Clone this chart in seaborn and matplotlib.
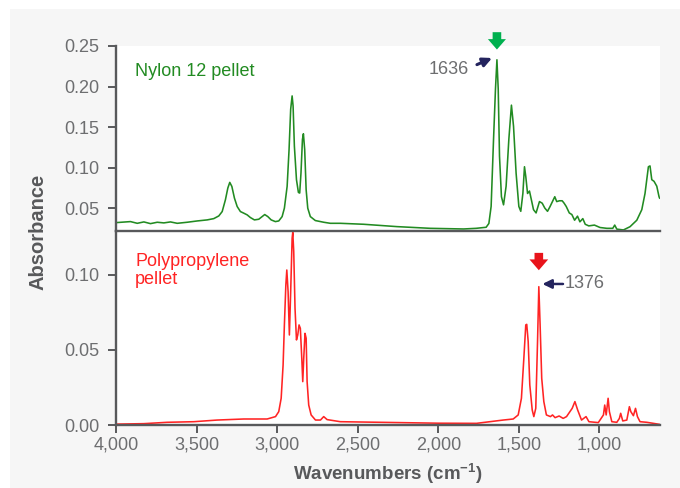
import matplotlib
matplotlib.use("Agg")
import matplotlib.pyplot as plt
from matplotlib.patches import Rectangle
import numpy as np
import pandas as pd
import seaborn as sns

# ---------------- data ----------------
nylon_wn = [3996, 3910, 3868, 3827, 3786, 3744, 3703, 3662, 3620, 3558, 3496, 3434,
            3393, 3362, 3341, 3321, 3306, 3294, 3281, 3265, 3248, 3228, 3207, 3186,
            3166, 3141, 3114, 3093, 3077, 3058, 3037, 3011, 2990, 2969, 2955, 2938,
            2926, 2916, 2907, 2901, 2893, 2880, 2868, 2860, 2852, 2843, 2837, 2829,
            2820, 2810, 2794, 2763, 2711, 2670, 2608, 2463, 2256, 2050, 1843,
            1765, 1703, 1686, 1672, 1657, 1645, 1636, 1628, 1620, 1608, 1595, 1579,
            1562, 1546, 1533, 1517, 1500, 1488, 1475, 1465, 1457, 1446, 1434, 1422,
            1409, 1393, 1372, 1355, 1339, 1322, 1306, 1277, 1265, 1248, 1231, 1219,
            1206, 1187, 1171, 1154, 1136, 1121, 1103, 1088, 1066, 1031, 996, 954,
            917, 905, 892, 851, 810, 768, 737, 717, 696, 686, 675, 661, 644, 630, 626]
nylon_abs = [0.0321, 0.0333, 0.0312, 0.0329, 0.0308, 0.0325, 0.0317, 0.0329, 0.0312,
             0.0325, 0.0341, 0.0354, 0.0370, 0.0403, 0.0457, 0.0602, 0.0747, 0.0817,
             0.0767, 0.0623, 0.0519, 0.0457, 0.0437, 0.0416, 0.0383, 0.0354, 0.0362,
             0.0395, 0.0420, 0.0395, 0.0354, 0.0333, 0.0341, 0.0395, 0.0499, 0.0767,
             0.1222, 0.1719, 0.1884, 0.1760, 0.1264, 0.0850, 0.0693, 0.0685, 0.0933,
             0.1346, 0.1417, 0.1222, 0.0726, 0.0499, 0.0395, 0.0346, 0.0325, 0.0312,
             0.0312, 0.0300, 0.0271, 0.0250, 0.0242,
             0.0250, 0.0263, 0.031, 0.052, 0.135, 0.197, 0.233, 0.197, 0.114, 0.064,
             0.054, 0.077, 0.135, 0.177, 0.151, 0.093, 0.052, 0.046, 0.068, 0.101,
             0.089, 0.068, 0.071, 0.060, 0.048, 0.044, 0.058, 0.056, 0.050, 0.046,
             0.052, 0.064, 0.058, 0.059, 0.059, 0.056, 0.052, 0.044, 0.042, 0.035,
             0.040, 0.033, 0.037, 0.030, 0.028, 0.029, 0.026, 0.025, 0.025, 0.029,
             0.024, 0.023, 0.027, 0.035, 0.048, 0.068, 0.101, 0.102, 0.085, 0.083,
             0.077, 0.064, 0.062]

pp_wn = [3992, 3827, 3682, 3517, 3372, 3207, 3062, 3010, 2990, 2975, 2963, 2955,
         2946, 2940, 2932, 2924, 2916, 2907, 2903, 2897, 2889, 2880, 2872, 2864,
         2856, 2847, 2841, 2835, 2827, 2820, 2814, 2804, 2789, 2762, 2731, 2711,
         2690, 2608, 2300, 2000, 1763, 1680, 1597, 1535, 1504, 1484, 1469, 1457,
         1451, 1442, 1432, 1417, 1407, 1395, 1384, 1376, 1368, 1358, 1345, 1329,
         1304, 1291, 1275, 1250, 1225, 1204, 1169, 1152, 1135, 1111, 1083, 1065,
         1007, 975, 967, 958, 946, 938, 923, 892, 876, 868, 855, 830, 814, 805,
         789, 776, 764, 748, 706, 665, 626]
pp_abs = [0.0006, 0.0009, 0.0018, 0.0022, 0.0033, 0.0040, 0.0040, 0.0056, 0.0089,
          0.0178, 0.0400, 0.0667, 0.0933, 0.1033, 0.0889, 0.0600, 0.0889, 0.1244,
          0.1284, 0.1156, 0.0778, 0.0567, 0.0600, 0.0667, 0.0644, 0.0444, 0.0289,
          0.0444, 0.0611, 0.0578, 0.0289, 0.0133, 0.0067, 0.0033, 0.0033, 0.0056,
          0.0036, 0.0022, 0.0017, 0.0012, 0.0011, 0.0022, 0.0033, 0.0040, 0.0067,
          0.0178, 0.0444, 0.0667, 0.0671, 0.0556, 0.0267, 0.0100, 0.0056, 0.0111,
          0.0556, 0.0922, 0.0667, 0.0311, 0.0156, 0.0067, 0.0056, 0.0067, 0.0049,
          0.0060, 0.0044, 0.0056, 0.0111, 0.0156, 0.0100, 0.0033, 0.0056, 0.0022,
          0.0016, 0.0067, 0.0133, 0.0067, 0.0178, 0.0089, 0.0022, 0.0018, 0.0044,
          0.0078, 0.0027, 0.0033, 0.0122, 0.0089, 0.0062, 0.0111, 0.0056, 0.0022,
          0.0018, 0.0011, 0.0004]

x_ticks = [4000, 3500, 3000, 2500, 2000, 1500, 1000]
x_tick_labels = ["4,000", "3,500", "3,000", "2,500", "2,000", "1,500", "1,000"]
nylon_yticks = [0.05, 0.10, 0.15, 0.20, 0.25]
pp_yticks = [0.00, 0.05, 0.10]
nylon_peak = 1636
nylon_peak_abs = 0.233
pp_peak = 1376
pp_peak_abs = 0.0922

# ---------------- style ----------------
sns.set_theme(style="white")
plt.rcParams["font.family"] = ["Liberation Sans", "DejaVu Sans"]
plt.rcParams["mathtext.fontset"] = "custom"
plt.rcParams["mathtext.rm"] = "Liberation Sans"
plt.rcParams["mathtext.bf"] = "Liberation Sans:bold"

SPINE = "#58595b"
TICKTXT = "#6d6e70"
NYLON = "#228b22"
PP = "#ff2424"
NAVY = "#24245e"

fig = plt.figure(figsize=(6.8, 4.88), dpi=100, facecolor="white")
fig.patches.append(Rectangle((10 / 680, 0), 1, 1 - 9 / 488, transform=fig.transFigure,
                             facecolor="#f6f6f6", edgecolor="none", zorder=-10))

left, right = 116 / 680, 660 / 680
ax_top = fig.add_axes([left, 1 - 231 / 488, right - left, (231 - 46) / 488])
ax_bot = fig.add_axes([left, 1 - 425 / 488, right - left, (425 - 231) / 488],
                      sharex=ax_top)
# keep the dividing spine of the upper panel above the lower panel's background
ax_top.set_zorder(2)
ax_top.patch.set_alpha(0)
fig.patches.append(Rectangle((left, 1 - 231 / 488), right - left, (231 - 46) / 488,
                             transform=fig.transFigure, facecolor="white",
                             edgecolor="none", zorder=-5))

df_n = pd.DataFrame({"wn": nylon_wn, "abs": nylon_abs})
df_p = pd.DataFrame({"wn": pp_wn, "abs": pp_abs})
sns.lineplot(data=df_n, x="wn", y="abs", ax=ax_top, color=NYLON, lw=1.15,
             estimator=None, sort=False)
sns.lineplot(data=df_p, x="wn", y="abs", ax=ax_bot, color=PP, lw=1.15,
             estimator=None, sort=False)

ax_top.set_xlim(4000, 624)
ax_top.set_ylim(0.0217, 0.25)
ax_bot.set_ylim(0.0, 0.1293)

for ax in (ax_top, ax_bot):
    ax.set_xlabel("")
    ax.set_ylabel("")
    for s in ("top", "right"):
        ax.spines[s].set_visible(False)
    for s in ("left", "bottom"):
        ax.spines[s].set_color(SPINE)
        ax.spines[s].set_linewidth(1.7)
    ax.tick_params(axis="y", direction="out", length=6, width=1.4, color=SPINE,
                   labelsize=13, labelcolor=TICKTXT, pad=6, left=True)
ax_bot.set_facecolor("white")

ax_top.set_yticks(nylon_yticks)
ax_top.set_yticklabels([f"{v:.2f}" for v in nylon_yticks])
ax_top.tick_params(axis="x", bottom=False, labelbottom=False)

ax_bot.set_yticks(pp_yticks)
ax_bot.set_yticklabels([f"{v:.2f}" for v in pp_yticks])
ax_bot.set_xticks(x_ticks)
ax_bot.set_xticklabels(x_tick_labels)
ax_bot.tick_params(axis="x", direction="out", length=6, width=1.4, color=SPINE,
                   labelsize=13, labelcolor=TICKTXT, pad=2, bottom=True)

ax_bot.set_xlabel(r"Wavenumbers (cm$^{\mathbf{-1}}$)", fontsize=13.5,
                  fontweight="bold", color=SPINE, labelpad=6)
fig.text(38 / 680, 1 - 232 / 488, "Absorbance", rotation=90, ha="center",
         va="center", fontsize=14.5, fontweight="bold", color=SPINE)

# sample names
ax_top.text(0.035, 0.86, "Nylon 12 pellet", transform=ax_top.transAxes,
            color=NYLON, fontsize=13, va="center", ha="left")
ax_bot.text(0.035, 0.795, "Polypropylene\npellet", transform=ax_bot.transAxes,
            color=PP, fontsize=13, va="center", ha="left", linespacing=1.05)

# marker arrows above the key bands
ax_top.annotate("", xy=(nylon_peak, 0.2422), xytext=(0, 16.5),
                textcoords="offset points", annotation_clip=False,
                arrowprops=dict(arrowstyle="simple,head_width=1.3,head_length=0.75,tail_width=0.62",
                                mutation_scale=10, color="#00b04f", lw=0))
ax_bot.annotate("", xy=(pp_peak, 0.1013), xytext=(0, 16.5),
                textcoords="offset points", annotation_clip=False,
                arrowprops=dict(arrowstyle="simple,head_width=1.35,head_length=0.78,tail_width=0.62",
                                mutation_scale=10, color="#e8141b", lw=0))

# band labels with pointers
ax_top.annotate("", xy=(nylon_peak + 30, 0.2352), xytext=(nylon_peak + 124, 0.2270),
                arrowprops=dict(arrowstyle="-|>,head_length=0.45,head_width=0.22",
                                color=NAVY, lw=2.2, shrinkA=0, shrinkB=0))
ax_top.text(nylon_peak + 175, 0.2215, str(nylon_peak), color=TICKTXT, fontsize=13,
            ha="right", va="center")

ax_bot.annotate("", xy=(pp_peak - 22, 0.094), xytext=(pp_peak - 150, 0.094),
                arrowprops=dict(arrowstyle="-|>,head_length=0.45,head_width=0.22",
                                color=NAVY, lw=1.8, shrinkA=0, shrinkB=0))
ax_bot.text(pp_peak - 160, 0.094, str(pp_peak), color=TICKTXT, fontsize=13,
            ha="left", va="center")

fig.savefig("out.png", dpi=100, facecolor=fig.get_facecolor())
